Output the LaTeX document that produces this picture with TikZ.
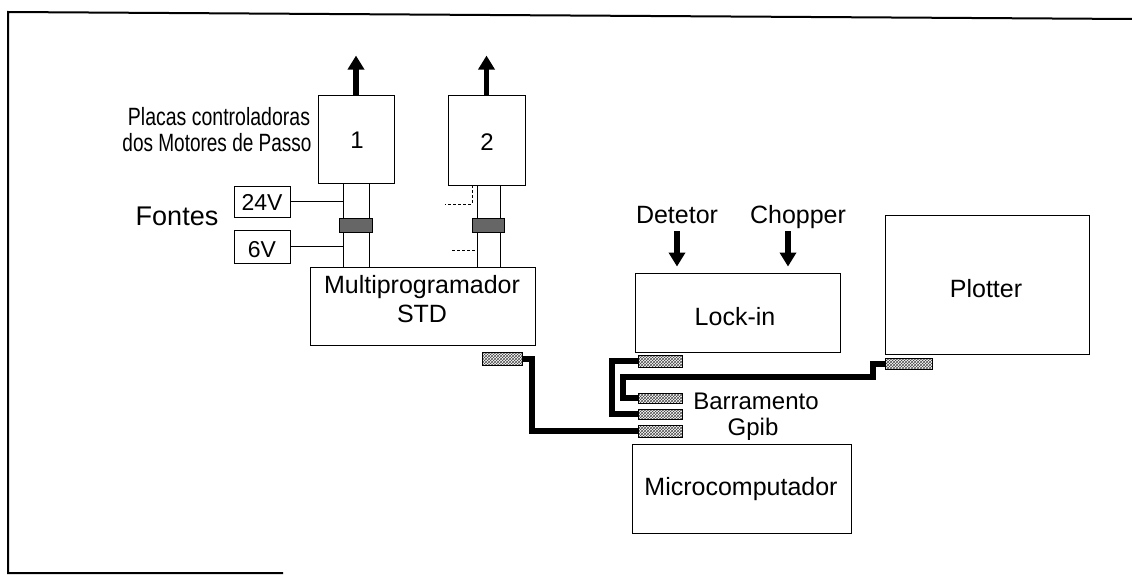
\documentclass[tikz,border=0pt]{standalone}
\usepackage{fontspec}
\setmainfont{Liberation Sans}
\usetikzlibrary{arrows.meta,patterns}
\begin{document}
\begin{tikzpicture}[x=1pt,y=-1pt,
 box/.style={draw,line width=0.9pt,inner sep=0pt},
 conn/.style={draw,line width=0.8pt,fill=black!60,inner sep=0pt},
 lconn/.style={draw,line width=0.8pt,pattern=crosshatch,pattern color=black!70,inner sep=0pt},
 lbl/.style={inner sep=0pt,anchor=base,font=\fontsize{25}{29}\selectfont},
 vlbl/.style={inner sep=0pt,anchor=base,font=\fontsize{23}{27}\selectfont},
 wire/.style={line width=0.9pt},
 stub/.style={line width=0.9pt,densely dashed},
 cable/.style={line width=6pt,line join=miter},
 bigarrow/.style={line width=5.5pt,-{Triangle[width=16pt,length=14pt]}}]
\useasboundingbox (0,0) rectangle (1132,575);

% outer frame
\draw[line width=2pt] (1132,19) -- (8,12) -- (8,573) -- (283,573);

% boxes
\node[box,minimum width=76pt,minimum height=88pt] (b1) at (356,139) {};
\node[box,minimum width=77pt,minimum height=90pt] (b2) at (486.5,140) {};
\node[box,minimum width=56pt,minimum height=31pt] (v24) at (262,201.5) {};
\node[box,minimum width=56pt,minimum height=33pt] (v6) at (262,246.5) {};
\node[box,minimum width=225pt,minimum height=78pt] (mp) at (422.5,306) {};
\node[box,minimum width=205pt,minimum height=79pt] (li) at (737.5,312.5) {};
\node[box,minimum width=204pt,minimum height=139pt] (pl) at (987,284.5) {};
\node[box,minimum width=219pt,minimum height=89pt] (mc) at (741.5,488.5) {};

% connectors
\node[conn,minimum width=33pt,minimum height=14pt] (c1) at (356,225) {};
\node[conn,minimum width=32pt,minimum height=14pt] (c2) at (488,225) {};
\node[lconn,minimum width=40pt,minimum height=13pt] (cm) at (502,358.5) {};
\node[lconn,minimum width=44pt,minimum height=12pt] (cl) at (660,361) {};
\node[lconn,minimum width=47pt,minimum height=11pt] (cp) at (908.5,364) {};
\node[lconn,minimum width=44pt,minimum height=10pt] (g1) at (660,398) {};
\node[lconn,minimum width=44pt,minimum height=10pt] (g2) at (660,414) {};
\node[lconn,minimum width=44pt,minimum height=12pt] (g3) at (660,431) {};

% labels
\node[lbl] (tp1) at (219,125) {\scalebox{0.78}[1]{Placas controladoras}};
\node[lbl] (tp2) at (217,152) {\scalebox{0.76}[1]{dos Motores de Passo}};
\node[lbl,font=\fontsize{27}{30}\selectfont] (tf) at (177,225) {Fontes};
\node[vlbl] (t24) at (262,210) {24V};
\node[vlbl] (t6) at (262,257) {6V};
\node[vlbl,font=\fontsize{24}{28}\selectfont] (t1) at (357,148) {1};
\node[vlbl,font=\fontsize{24}{28}\selectfont] (t2) at (487,150) {2};
\node[lbl] (tm1) at (422,293) {Multiprogramador};
\node[lbl] (tm2) at (422,322) {STD};
\node[lbl] (td) at (677,223) {Detetor};
\node[lbl] (tc) at (798,223) {Chopper};
\node[lbl] (tl) at (735,325) {Lock-in};
\node[lbl] (tpl) at (986,297) {Plotter};
\node[lbl,font=\fontsize{24}{28}\selectfont] (tb1) at (756,409) {Barramento};
\node[lbl,font=\fontsize{24}{28}\selectfont] (tb2) at (753,435) {Gpib};
\node[lbl] (tmc) at (741,495) {Microcomputador};

% helper coordinates
\coordinate (p1) at ([xshift=-13pt]b1.south);
\coordinate (p2) at ([xshift=13pt]b1.south);
\coordinate (p3) at ([xshift=-9.5pt]b2.south);
\coordinate (p4) at ([xshift=13.5pt]b2.south);
\coordinate (p5) at ([xshift=-14.5pt]b2.south);
\coordinate (s1) at (445,204);
\coordinate (s2) at (452,250);
\coordinate (s3) at (475,250);

% thin wires
\draw[wire] (p1) -- (p1 |- c1.north);
\draw[wire] (p2) -- (p2 |- c1.north);
\draw[wire] (p1 |- c1.south) -- (p1 |- mp.north);
\draw[wire] (p2 |- c1.south) -- (p2 |- mp.north);
\draw[wire] (v24.east) -- (p1 |- v24.east);
\draw[wire] (v6.east) -- (p1 |- v6.east);
\draw[wire] (p3) -- (p3 |- c2.north);
\draw[wire] (p4) -- (p4 |- c2.north);
\draw[wire] (p3 |- c2.south) -- (p3 |- mp.north);
\draw[wire] (p4 |- c2.south) -- (p4 |- mp.north);
\draw[stub] (p5) -- (p5 |- s1) -- (s1);
\draw[stub] (s2) -- (s3);

% arrows
\coordinate (ad) at (677,231);
\coordinate (ac) at (788,231);
\draw[bigarrow] (b1.north) -- ++(0,-39);
\draw[bigarrow] (b2.north) -- ++(0,-39);
\draw[bigarrow] (ad) -- ([yshift=6pt]ad |- li.north);
\draw[bigarrow] (ac) -- ([yshift=6pt]ac |- li.north);

% GPIB cables
\coordinate (ka) at (532,358.5);
\coordinate (kb) at (612,0);
\coordinate (kc1) at (873,0);
\coordinate (kc2) at (623,377);
\draw[cable] (cm.east) -- (ka) -- (ka |- g3.west) -- (g3.west);
\draw[cable] (cl.west) -- (kb |- cl.west) -- (kb |- g2.west) -- (g2.west);
\draw[cable] (cp.west) -- (kc1 |- cp.west) -- (kc1 |- kc2) -- (kc2) -- (kc2 |- g1.west) -- (g1.west);
\end{tikzpicture}
\end{document}
